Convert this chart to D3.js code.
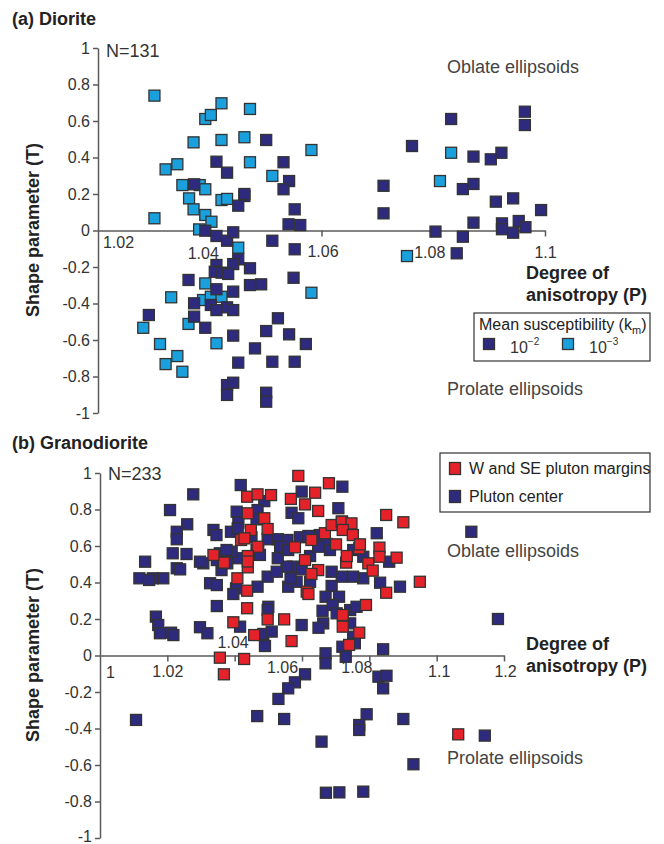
<!DOCTYPE html>
<html><head><meta charset="utf-8">
<script src="https://cdn.jsdelivr.net/npm/d3@7"></script>
<style>
body{margin:0;background:#fff}
svg{display:block;font-family:Arial,"Liberation Sans",Helvetica,sans-serif}
</style>
</head><body>
<svg id="chart" width="664" height="844"></svg>
<script>
// ---------------- DATA ----------------
const yTickValues = [-1, -0.8, -0.6, -0.4, -0.2, 0, 0.2, 0.4, 0.6, 0.8, 1];
const yTickLabels = ["-1", "-0.8", "-0.6", "-0.4", "-0.2", "0", "0.2", "0.4", "0.6", "0.8", "1"];

// Panel (a) Diorite
const dioriteTickValues = [1.02, 1.04, 1.06, 1.08, 1.10];
const dioriteTickLabels = ["1.02", "1.04", "1.06", "1.08", "1.1"];
const dioriteSeriesNames = ["10^-2", "10^-3"];
// km 10^-3 (light blue): P, T
const dioriteLowP = [1.0301,1.0392,1.0402,1.0421,1.0472,1.0371,1.0421,1.0462,1.0582,1.0321,1.0342,1.0472,1.0512,1.0351,1.0382,1.0392,1.0363,1.0421,1.0431,1.0371,1.0392,1.0301,1.0403,1.0381,1.0451,1.0392,1.0331,1.0388,1.0402,1.0421,1.0281,1.0362,1.0311,1.0412,1.0342,1.0321,1.0351,1.0582,1.0832,1.0812,1.0753];
const dioriteLowT = [0.739,0.611,0.633,0.697,0.666,0.483,0.496,0.511,0.441,0.335,0.363,0.374,0.299,0.249,0.249,0.226,0.176,0.167,0.173,0.116,0.085,0.067,0.048,0.006,-0.094,-0.290,-0.366,-0.381,-0.363,-0.363,-0.533,-0.512,-0.622,-0.618,-0.688,-0.732,-0.774,-0.341,0.426,0.271,-0.140];
// km 10^-2 (dark blue): P, T
const dioriteHighP = [1.0501,1.0412,1.0431,1.0532,1.0542,1.0532,1.0552,1.0372,1.0462,1.0451,1.0541,1.0562,1.0392,1.0412,1.0431,1.0442,1.0512,1.0552,1.0451,1.0412,1.0442,1.0472,1.0409,1.0421,1.0433,1.0550,1.0362,1.0472,1.0492,1.0412,1.0442,1.0372,1.0402,1.0431,1.0442,1.0412,1.0291,1.0372,1.0392,1.0522,1.0501,1.0542,1.0442,1.0572,1.0481,1.0451,1.0512,1.0552,1.0431,1.0442,1.0431,1.0501,1.0501,1.0964,1.0964,1.0832,1.0762,1.0872,1.0903,1.0922,1.0711,1.0853,1.0872,1.0912,1.0943,1.0993,1.0711,1.0872,1.0923,1.0923,1.0953,1.0965,1.0943,1.0804,1.0853,1.0842,1.0462];
const dioriteHighT = [0.496,0.377,0.317,0.374,0.271,0.226,0.116,0.253,0.189,0.136,0.034,0.030,-0.001,-0.030,-0.056,-0.010,-0.056,-0.103,-0.158,-0.189,-0.184,-0.207,-0.226,-0.231,-0.238,-0.259,-0.271,-0.299,-0.295,-0.322,-0.335,-0.399,-0.408,-0.421,-0.436,-0.436,-0.463,-0.472,-0.533,-0.481,-0.551,-0.569,-0.576,-0.622,-0.646,-0.724,-0.719,-0.719,-0.847,-0.834,-0.901,-0.889,-0.938,0.651,0.578,0.611,0.463,0.405,0.390,0.426,0.245,0.227,0.255,0.158,0.176,0.112,0.094,0.043,0.039,0.007,0.052,0.018,-0.012,-0.006,-0.034,-0.125,0.200];

// Panel (b) Granodiorite
const granoTickValues = [1.00, 1.02, 1.04, 1.06, 1.08, 1.10, 1.12];
const granoTickLabels = ["1", "1.02", "1.04", "1.06", "1.08", "1.1", "1.2"];
const granoSeriesNames = ["W and SE pluton margins", "Pluton center"];
// Pluton center (dark blue)
const centerP = [1.0418,1.0720,1.0277,1.0488,1.0599,1.0569,1.0589,1.0208,1.0406,1.0468,1.0465,1.0411,1.0259,1.0228,1.0228,1.0337,1.0346,1.0389,1.0409,1.0470,1.0450,1.0498,1.0528,1.0557,1.0594,1.0619,1.0653,1.0708,1.0822,1.0673,1.0859,1.0891,1.0832,1.0782,1.0752,1.0688,1.0718,1.0624,1.0574,1.0599,1.0554,1.0528,1.0498,1.0468,1.0404,1.0396,1.0327,1.0347,1.0378,1.0361,1.0307,1.0297,1.0356,1.0411,1.0391,1.0465,1.0559,1.0688,1.0670,1.0710,1.0216,1.0257,1.0228,1.0238,1.0188,1.0157,1.0347,1.0500,1.0498,1.0599,1.0416,1.0485,1.0510,1.0297,1.0319,1.0166,1.0173,1.0178,1.0211,1.0218,1.0663,1.0661,1.0691,1.0703,1.0743,1.0762,1.0752,1.0720,1.0841,1.0743,1.0649,1.0757,1.0730,1.0670,1.0670,1.0490,1.0609,1.0579,1.0559,1.0530,1.0467,1.0547,1.0107,1.0658,1.0671,1.0711,1.0782,1.0792,1.0770,1.0770,1.0827,1.0851,1.0841,1.0901,1.0931,1.1143,1.0719,1.1103,1.1182,1.0134,1.0117,1.0146,1.0535,1.0559,1.0648,1.0683,1.0752,1.0782,1.0475,1.0376,1.0347,1.0624,1.0584,1.0525,1.0566];
const centerT = [0.934,0.925,0.883,0.846,0.898,0.782,0.752,0.797,0.788,0.797,0.746,0.728,0.719,0.678,0.637,0.688,0.660,0.678,0.697,0.590,0.648,0.637,0.637,0.633,0.648,0.655,0.660,0.807,0.670,0.611,0.514,0.377,0.399,0.423,0.432,0.459,0.432,0.545,0.487,0.472,0.487,0.533,0.432,0.377,0.368,0.337,0.396,0.386,0.505,0.468,0.505,0.514,0.560,0.533,0.569,0.578,0.377,0.381,0.322,0.322,0.560,0.556,0.478,0.472,0.423,0.423,0.271,0.267,0.249,0.167,0.158,0.118,0.131,0.155,0.122,0.213,0.167,0.122,0.125,0.112,0.176,0.245,0.277,0.231,0.249,0.267,0.103,0.048,0.034,0.176,0.152,0.067,-0.007,0.012,-0.043,0.052,-0.103,-0.147,-0.180,-0.238,-0.332,-0.348,-0.353,-0.472,-0.752,-0.750,-0.746,-0.322,-0.381,-0.408,-0.116,-0.111,-0.180,-0.348,-0.596,-0.439,0.734,0.678,0.200,0.514,0.423,0.414,0.596,0.578,0.596,0.578,0.578,0.541,0.551,0.578,0.523,0.404,0.404,0.459,0.423];
// W and SE pluton margins (red)
const marginP = [1.0589,1.0680,1.0437,1.0468,1.0508,1.0567,1.0639,1.0609,1.0648,1.0439,1.0488,1.0498,1.0448,1.0419,1.0429,1.0468,1.0579,1.0628,1.0668,1.0688,1.0718,1.0747,1.0721,1.0751,1.0701,1.0770,1.0850,1.0901,1.0830,1.0830,1.0881,1.0797,1.0810,1.0950,1.0850,1.0731,1.0733,1.0648,1.0628,1.0609,1.0437,1.0408,1.0368,1.0337,1.0439,1.0439,1.0614,1.0619,1.0437,1.0498,1.0547,1.0396,1.0458,1.0569,1.0721,1.0721,1.0790,1.0770,1.0740,1.0356,1.0428,1.0368,1.1064,1.0772,1.0439];
const marginT = [0.984,0.944,0.870,0.883,0.879,0.858,0.892,0.828,0.792,0.779,0.752,0.693,0.688,0.633,0.642,0.596,0.593,0.633,0.670,0.715,0.733,0.724,0.688,0.660,0.609,0.587,0.770,0.730,0.591,0.541,0.536,0.505,0.465,0.404,0.344,0.509,0.545,0.468,0.447,0.523,0.355,0.423,0.509,0.551,0.545,0.483,0.350,0.337,0.259,0.198,0.198,0.182,0.112,0.079,0.222,0.158,0.277,0.125,0.058,-0.012,-0.019,-0.103,-0.432,0.609,0.515];

// ---------------- DRAWING ----------------
const COL = {dark: "#2e2b7e", light: "#1aa1dd", red: "#e5222a", edge: "#333333"};
const SQ = 11;
const svg = d3.select("#chart");

function styleAxis(g) {
  g.attr("font-family", null).attr("font-size", null);
  g.selectAll("path.domain").attr("stroke", "#5a5a5a").attr("stroke-width", 1.5);
  g.selectAll(".tick line").attr("stroke", "#5a5a5a").attr("stroke-width", 1.5);
  g.selectAll(".tick text").attr("fill", "#333").attr("font-size", 16)
    .style("font-family", 'Arial,"Liberation Sans",sans-serif');
}

function drawPanel(o) {
  const g = svg.append("g");
  const x = d3.scaleLinear().domain(o.xDomain).range(o.xRange);
  const y = d3.scaleLinear().domain([-1, 1]).range(o.yRange);
  const y0 = y(0);

  // title
  g.append("text").attr("x", 12).attr("y", o.titleY).text(o.title)
    .attr("font-weight", "bold").attr("font-size", 18).attr("fill", "#222");

  // y axis
  const ya = g.append("g").attr("transform", `translate(${o.xRange[0]},0)`)
    .call(d3.axisLeft(y).tickValues(yTickValues).tickFormat((d, i) => yTickLabels[i])
      .tickSize(5).tickSizeOuter(0).tickPadding(3));
  styleAxis(ya);
  if (o.raiseBottomLabel) ya.selectAll(".tick text").filter(d => d === -1).attr("dy", "0.2em");

  // x axis
  const xa = g.append("g").attr("transform", `translate(0,${y0})`)
    .call(d3.axisBottom(x).tickValues(o.xTicks).tickFormat((d, i) => o.xLabels[i])
      .tickSize(6).tickSizeOuter(0));
  styleAxis(xa);
  xa.selectAll(".tick text")
    .attr("dx", (d, i) => o.labelPos[i][0])
    .attr("y", (d, i) => o.labelPos[i][1] - y0)
    .attr("dy", 0);
  if (o.hideFirstTickLine) xa.selectAll(".tick line").filter((d, i) => i === 0).remove();

  // N label
  g.append("text").attr("x", o.xRange[0] + 8).attr("y", o.nY).text(o.nText)
    .attr("font-size", 18).attr("fill", "#333");

  // axis titles
  g.append("text").attr("transform", `translate(39,${o.yLabelY}) rotate(-90)`)
    .attr("text-anchor", "middle").attr("font-weight", "bold").attr("font-size", 18)
    .attr("fill", "#222").text("Shape parameter (T)");
  const xt = g.append("text").attr("font-weight", "bold").attr("font-size", 18).attr("fill", "#222");
  xt.append("tspan").attr("x", 526).attr("y", o.xTitleY).text("Degree of");
  xt.append("tspan").attr("x", 526).attr("y", o.xTitleY + 21.5).text("anisotropy (P)");

  // annotation
  g.append("text").attr("x", 447).attr("y", o.oblateY).text("Oblate ellipsoids")
    .attr("font-size", 18).attr("fill", "#444");
  g.append("text").attr("x", 447).attr("y", o.prolateY).text("Prolate ellipsoids")
    .attr("font-size", 18).attr("fill", "#444");

  // points
  o.series.forEach(s => {
    g.append("g").selectAll("rect").data(d3.zip(s.p, s.t)).join("rect")
      .attr("x", d => x(d[0]) - SQ / 2).attr("y", d => y(d[1]) - SQ / 2)
      .attr("width", SQ).attr("height", SQ)
      .attr("fill", s.color).attr("stroke", COL.edge).attr("stroke-width", 1.3);
  });
  return g;
}

// Panel (a)
drawPanel({
  title: "(a) Diorite", titleY: 25,
  xDomain: [1.02, 1.10], xRange: [98, 545], yRange: [413, 48],
  xTicks: dioriteTickValues, xLabels: dioriteTickLabels,
  labelPos: [[20, 248], [-7, 259], [1, 257], [-4, 258], [0, 258]],
  hideFirstTickLine: true,
  nText: "N=131", nY: 57, yLabelY: 230, xTitleY: 279,
  oblateY: 73, prolateY: 395,
  series: [
    {p: dioriteLowP, t: dioriteLowT, color: COL.light},
    {p: dioriteHighP, t: dioriteHighT, color: COL.dark}
  ]
});

// Legend (a)
{
  const lg = svg.append("g");
  lg.append("rect").attr("x", 474).attr("y", 313).attr("width", 176).attr("height", 48)
    .attr("fill", "#fff").attr("stroke", "#333").attr("stroke-width", 1.2);
  const t = lg.append("text").attr("x", 479).attr("y", 330).attr("font-size", 16).attr("fill", "#222");
  t.append("tspan").text("Mean susceptibility (k");
  t.append("tspan").attr("font-size", 11).attr("dy", 4).text("m");
  t.append("tspan").attr("dy", -4).text(")");
  const items = [{c: COL.dark, x: 483, exp: "\u22122"}, {c: COL.light, x: 562, exp: "\u22123"}];
  items.forEach(it => {
    lg.append("rect").attr("x", it.x + 0.5).attr("y", 338.5).attr("width", SQ).attr("height", SQ)
      .attr("fill", it.c).attr("stroke", COL.edge).attr("stroke-width", 1.3);
    const tt = lg.append("text").attr("x", it.x + 27).attr("y", 353).attr("font-size", 16).attr("fill", "#333");
    tt.append("tspan").text("10");
    tt.append("tspan").attr("font-size", 10).attr("dy", -8).text(it.exp);
  });
}

// Panel (b)
drawPanel({
  title: "(b) Granodiorite", titleY: 449,
  xDomain: [1.00, 1.12], xRange: [100, 504], yRange: [838, 473],
  xTicks: granoTickValues, xLabels: granoTickLabels,
  labelPos: [[10, 678], [0, 677], [-2, 648], [-20, 673], [-13, 673], [2, 677], [1, 677]],
  hideFirstTickLine: true, raiseBottomLabel: true,
  nText: "N=233", nY: 480, yLabelY: 655, xTitleY: 650,
  oblateY: 557, prolateY: 764,
  series: [
    {p: centerP, t: centerT, color: COL.dark},
    {p: marginP, t: marginT, color: COL.red}
  ]
});

// Legend (b)
{
  const lg = svg.append("g");
  lg.append("rect").attr("x", 440).attr("y", 453).attr("width", 210).attr("height", 59)
    .attr("fill", "#fff").attr("stroke", "#333").attr("stroke-width", 1.2);
  const items = [{c: COL.red, name: granoSeriesNames[0], y: 462}, {c: COL.dark, name: granoSeriesNames[1], y: 490}];
  items.forEach(it => {
    lg.append("rect").attr("x", 449.5).attr("y", it.y + 0.5).attr("width", SQ).attr("height", SQ + 1)
      .attr("fill", it.c).attr("stroke", COL.edge).attr("stroke-width", 1.3);
    lg.append("text").attr("x", 469).attr("y", it.y + 12).attr("font-size", 16).attr("fill", "#222").text(it.name);
  });
}
</script>
</body></html>
